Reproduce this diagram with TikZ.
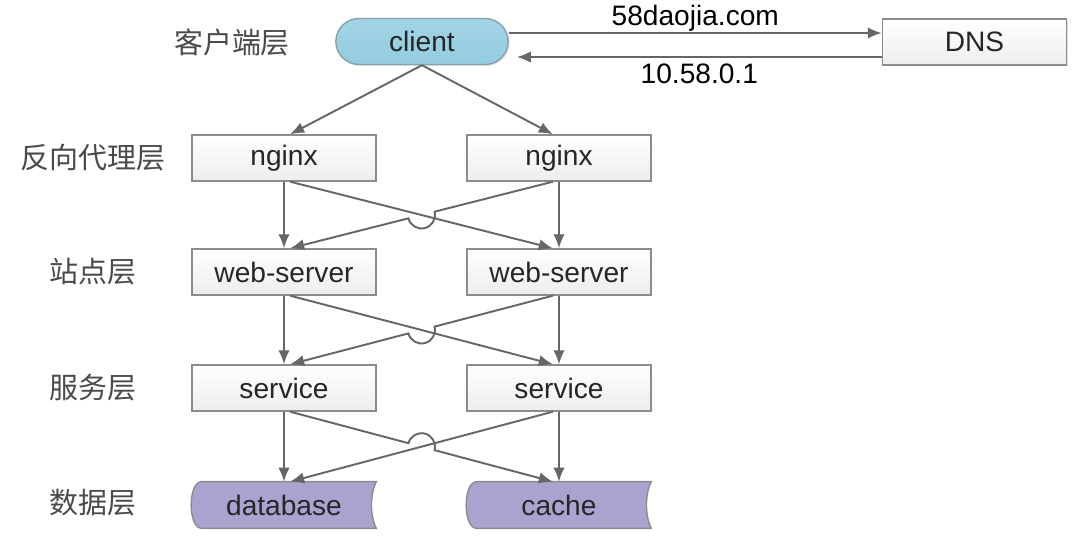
\documentclass[tikz,border=0pt]{standalone}
\usepackage{fontspec}
\setmainfont{Liberation Sans}
\newfontfamily\cjk{Noto Sans CJK SC}
\usetikzlibrary{arrows.meta,calc,shapes.misc,shadows,backgrounds}

\definecolor{linegray}{HTML}{666666}
\definecolor{boxline}{HTML}{8C8C8C}
\definecolor{clientblue}{HTML}{93CCE0}
\definecolor{dbpurple}{HTML}{A9A3CF}
\definecolor{labelgray}{HTML}{4A4A4A}

\tikzset{
    box/.style={% plain grey box of one layer
        rectangle, draw=boxline, line width=0.8pt,
        top color=white, bottom color=gray!14,
        minimum width=3.68cm, minimum height=0.92cm,
        font=\fontsize{16}{19}\selectfont, text=black!85,
        drop shadow={shadow xshift=0.8pt, shadow yshift=-0.8pt, opacity=0.25}},
    pill/.style={% the client
        box, rounded rectangle, draw=clientblue!45!gray,
        top color=clientblue!85, bottom color=clientblue},
    store/.style={% text only, outline drawn by \storeshape
        rectangle, minimum width=3.68cm, minimum height=0.92cm,
        font=\fontsize{16}{19}\selectfont, text=black!85},
    layer/.style={font=\cjk\fontsize{16.5}{19}\selectfont, text=labelgray},
    link/.style={draw=linegray, line width=1.1pt,
        -{Latex[length=8pt,width=6.5pt]}},
    store line/.style={draw=boxline, line width=0.8pt, fill=dbpurple}
}
% stored data outline round a store node
\newcommand\storeshape[1]{%
    \filldraw[store line] ([xshift=0.2cm]#1.north west) -- (#1.north east)
        .. controls +(-0.13cm,-0.25cm) and +(-0.13cm,0.25cm) .. (#1.south east)
        -- ([xshift=0.2cm]#1.south west)
        .. controls +(-0.28cm,0cm) and +(-0.28cm,0cm) .. cycle;}
\newcommand\hopr{0.27cm}

\begin{document}
\begin{tikzpicture}[x=0.02cm, y=0.02cm]
\useasboundingbox (0,0) rectangle (1080,-542);

% layer names
\node[layer] (lclient) at (232,-42)  {客户端层};
\node[layer] (lproxy)  at (93,-158)  {反向代理层};
\node[layer] (lsite)   at (93,-272)  {站点层};
\node[layer] (lserv)   at (93,-388)  {服务层};
\node[layer] (ldata)   at (93,-503)  {数据层};

% boxes
\node[pill] (client) at (422,-41.5) {client};
\node[box]  (dns)    at (974.5,-42) {DNS};
\node[box]  (ngL)    at (284,-158)  {nginx};
\node[box]  (ngR)    at (559,-158)  {nginx};
\node[box]  (webL)   at (284,-272)  {web-server};
\node[box]  (webR)   at (559,-272)  {web-server};
\node[box]  (svL)    at (284,-388)  {service};
\node[box]  (svR)    at (559,-388)  {service};
\node[store] (db)    at (284,-505)  {database};
\node[store] (cache) at (559,-505)  {cache};
\begin{scope}[on background layer]
\storeshape{db}
\storeshape{cache}
\end{scope}

% dns lookup
\draw[link] ([yshift=0.17cm]client.east) -- ([yshift=0.18cm]dns.west)
    node[midway, above=-3pt, font=\fontsize{16}{19}\selectfont] (qname) {58daojia.com};
\draw[link] ([yshift=-0.3cm]dns.west) -- ([xshift=0.16cm,yshift=-0.31cm]client.east)
    node[midway, below=0pt, font=\fontsize{16}{19}\selectfont] (qaddr) {10.58.0.1};

% client to proxies
\draw[link] (client.south) -- ([xshift=3.5pt]ngL.north);
\draw[link] (client.south) -- ([xshift=-3.5pt]ngR.north);

% proxies to sites
\draw[link] (ngL.south) -- (webL.north);
\draw[link] (ngR.south) -- (webR.north);
\draw[link] ([xshift=3.5pt]ngL.south) -- ([xshift=-3.5pt]webR.north);
\draw[link] let \p1=([xshift=-3.5pt]ngR.south), \p2=([xshift=3.5pt]webL.north),
    \n1={atan2(\y1-\y2,\x1-\x2)} in
    (\p1) -- ($(\p1)!0.5!(\p2)!\hopr!(\p1)$)
    arc[start angle=\n1, end angle=\n1-180, radius=\hopr] -- (\p2);

% sites to services
\draw[link] (webL.south) -- (svL.north);
\draw[link] (webR.south) -- (svR.north);
\draw[link] ([xshift=3.5pt]webL.south) -- ([xshift=-3.5pt]svR.north);
\draw[link] let \p1=([xshift=-3.5pt]webR.south), \p2=([xshift=3.5pt]svL.north),
    \n1={atan2(\y1-\y2,\x1-\x2)} in
    (\p1) -- ($(\p1)!0.5!(\p2)!\hopr!(\p1)$)
    arc[start angle=\n1, end angle=\n1-180, radius=\hopr] -- (\p2);

% services to data
\draw[link] (svL.south) -- (db.north);
\draw[link] (svR.south) -- (cache.north);
\draw[link] ([xshift=-3.5pt]svR.south) -- ([xshift=3.5pt]db.north);
\draw[link] let \p1=([xshift=3.5pt]svL.south), \p2=([xshift=-3.5pt]cache.north),
    \n1={atan2(\y1-\y2,\x1-\x2)} in
    (\p1) -- ($(\p1)!0.5!(\p2)!\hopr!(\p1)$)
    arc[start angle=\n1, end angle=\n1-180, radius=\hopr] -- (\p2);
\end{tikzpicture}
\end{document}
